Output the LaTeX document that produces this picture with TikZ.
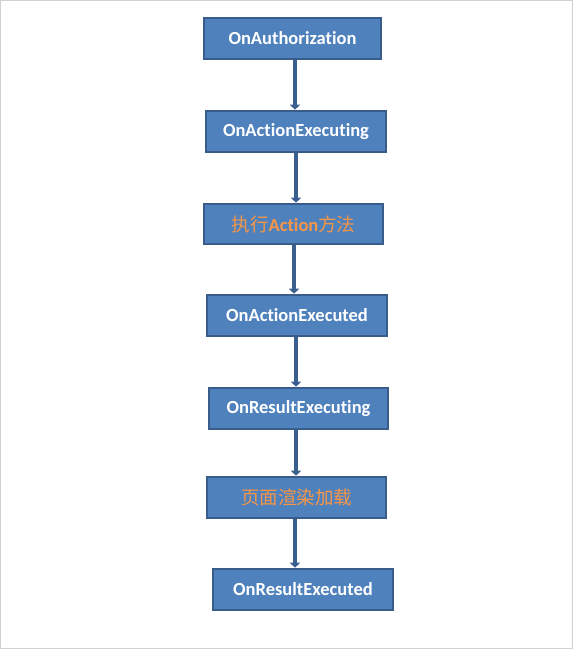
\documentclass[tikz,border=0pt]{standalone}
\usepackage{fontspec}
\setmainfont{Carlito}[Ligatures=NoCommon]
\newfontfamily\cjk{Noto Sans CJK SC}
\usetikzlibrary{arrows.meta}
\definecolor{boxfill}{HTML}{4F81BD}
\definecolor{boxline}{HTML}{385D8A}
\definecolor{arrline}{HTML}{3A5F8E}
\definecolor{cjkorange}{HTML}{F79646}
\newcommand{\zh}[1]{{\cjk\fontsize{18.5}{20}\selectfont\mdseries #1}}
\begin{document}
\begin{tikzpicture}[x=1pt,y=1pt,
  stepbox/.style={draw=boxline,line width=2.6pt,fill=boxfill,minimum height=41pt,
    inner sep=0pt,font=\fontsize{18.5}{20}\selectfont\bfseries,text=white},
  cjkbox/.style={stepbox,text=cjkorange},
  arr/.style={draw=arrline,line width=4.5pt,-{Triangle[width=10pt,length=5pt]}}]
\useasboundingbox (0,0) rectangle (573,-649);
\draw[draw=black!18,line width=2pt] (0,0) rectangle (573,-649);
\node[stepbox,minimum width=177pt] (a) at (292.5,-38.5) {OnAuthorization};
\node[stepbox,minimum width=180pt] (b) at (296,-131.5) {OnActionExecuting};
\node[cjkbox,minimum width=179pt,minimum height=40pt] (c) at (293.5,-224) {\zh{执行}Action\zh{方法}};
\node[stepbox,minimum width=180pt] (d) at (297,-315.5) {OnActionExecuted};
\node[stepbox,minimum width=179pt] (e) at (298.5,-408.5) {OnResultExecuting};
\node[cjkbox,minimum width=179pt] (f) at (296.5,-497.5) {\zh{页面渲染加载}};
\node[stepbox,minimum width=180pt] (g) at (303,-589.5) {OnResultExecuted};
\draw[arr] ([xshift=2.5pt]a.south) -- ([xshift=2.5pt]a.south |- b.north);
\draw[arr] ([xshift=0pt]b.south) -- (b.south |- c.north);
\draw[arr] ([xshift=0.5pt]c.south) -- ([xshift=0.5pt]c.south |- d.north);
\draw[arr] ([xshift=-1pt]d.south) -- ([xshift=-1pt]d.south |- e.north);
\draw[arr] ([xshift=-2.5pt]e.south) -- ([xshift=-2.5pt]e.south |- f.north);
\draw[arr] ([xshift=-1.5pt]f.south) -- ([xshift=-1.5pt]f.south |- g.north);
\end{tikzpicture}
\end{document}
